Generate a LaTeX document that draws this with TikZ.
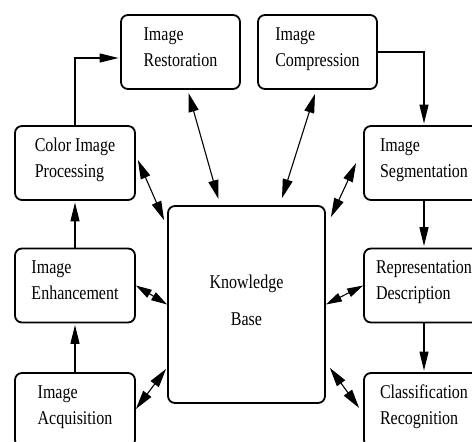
\documentclass[tikz,border=0pt]{standalone}
\usepackage{fontspec}
\setmainfont{Liberation Serif}[FakeStretch=0.82]
\usetikzlibrary{arrows.meta,positioning}

\begin{document}
\begin{tikzpicture}[
    x=1pt, y=-1pt,
    font=\fontsize{19.5}{26}\selectfont,
    proc/.style={draw=black, line width=1.8pt, rounded corners=7pt, align=left, inner sep=0pt, minimum width=119pt, minimum height=74pt,
      execute at begin node=\rule{0pt}{16pt}, execute at end node=\rule[-10pt]{0pt}{10pt}},
    kbox/.style={draw=black, line width=1.8pt, rounded corners=7pt, align=center, inner sep=0pt, minimum width=157pt, minimum height=197pt,
      font=\fontsize{19.5}{37}\selectfont, execute at begin node=\rule{0pt}{16pt}, execute at end node=\rule[-8pt]{0pt}{8pt}},
    arr/.style={arrows={-Triangle[length=19pt, width=9pt]}, line width=1.1pt, shorten >=1.5pt},
    darr/.style={arrows={Triangle[length=19pt, width=10pt]-Triangle[length=19pt, width=10pt]}, line width=1.1pt},
    sdarr/.style={arrows={Triangle[length=16pt, width=9pt]-Triangle[length=16pt, width=9pt]}, line width=1.1pt}
  ]
  \clip (0,0) rectangle (472,442);

  % --- TOP ROW ---
  \node[proc] (restore) at (180.5, 52) {Image\\Restoration};
  \node[proc] (compress) at (317.5, 52) {Image\\Compression};

  % --- LEFT COLUMN ---
  \node[proc, minimum width=120pt] (color) at (75, 163) {Color Image\\Processing};
  \node[proc, minimum width=120pt] (enhance) at (75, 285.5) {Image\\Enhancement};
  \node[proc, minimum width=120pt] (acquire) at (75, 410) {Image\\Acquisition};

  % --- RIGHT COLUMN ---
  \node[proc, minimum width=120pt] (segment) at (424, 163) {Image\\Segmentation};
  \node[proc, minimum width=120pt] (repr) at (424, 285.5) {Representation\\Description};
  \node[proc, minimum width=120pt] (classify) at (424, 410) {Classification\\Recognition};

  % --- KNOWLEDGE BASE ---
  \node[kbox] (kb) at (246.5, 304.5) {Knowledge\\Base};

  % --- CONNECTIONS ---
  \draw[arr] (acquire.north) -- (enhance.south);
  \draw[arr] (enhance.north) -- (color.south);
  \draw[arr] (color.north) |- ([yshift=-6pt]restore.west);
  \draw[arr] (compress.east) -| (segment.north);
  \draw[arr] (segment.south) -- (repr.north);
  \draw[arr] (repr.south) -- (classify.north);

  % Stages <-> Knowledge Base
  \draw[darr] ([xshift=8pt, yshift=-3pt]restore.south) -- ([xshift=-28pt, yshift=6pt]kb.north);
  \draw[darr] ([xshift=-2.5pt, yshift=-4pt]compress.south) -- ([xshift=35.5pt, yshift=7pt]kb.north);
  \draw[darr] ([xshift=2pt, yshift=3pt]color.east) -- ([xshift=-3pt, yshift=-15pt]kb.north west);
  \draw[darr] ([xshift=-7pt]segment.west) -- ([xshift=5pt, yshift=-12pt]kb.north east);
  \draw[sdarr] (enhance.east) -- (kb.west);
  \draw[sdarr] (repr.west) -- (kb.east);
  \draw[darr] ([yshift=1pt]acquire.east) -- ([xshift=-1pt, yshift=35pt]kb.south west);
  \draw[darr] ([xshift=-4pt, yshift=2pt]classify.west) -- ([xshift=4pt, yshift=36pt]kb.south east);

\end{tikzpicture}
\end{document}
